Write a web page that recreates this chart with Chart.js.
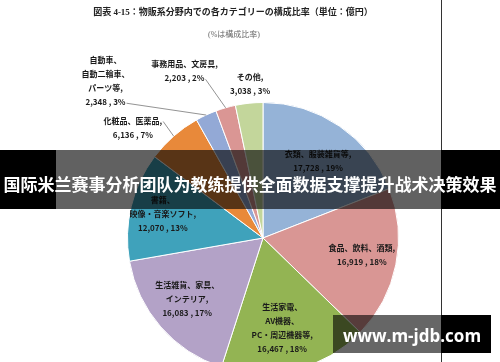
<!DOCTYPE html>
<html>
<head>
<meta charset="utf-8">
<script src="https://cdn.jsdelivr.net/npm/chart.js@4.4.0/dist/chart.umd.min.js"></script>
<style>
body { margin:0; width:500px; height:362px; overflow:hidden; background:#fff; position:relative; }
#pie_chart { position:absolute; left:0; top:0; }
.rule { position:absolute; left:441px; top:0; width:1px; height:362px; background:#333; }
.banner { position:absolute; left:0; top:150px; width:500px; height:35px; padding-top:24px;
  background:linear-gradient(to right, #000 0, #000 56px, rgba(0,0,0,0.62) 56px, rgba(0,0,0,0.62) 441px, #000 441px);
  color:#fff; font:bold 17px 'Noto Sans CJK SC'; line-height:20px; text-align:center; white-space:nowrap; }
.mark { position:absolute; left:333px; top:315px; width:158px; height:30px; padding-top:8px;
  background:linear-gradient(to right, rgba(0,0,0,0.6) 0, rgba(0,0,0,0.6) 108px, #000 108px);
  color:#fff; font:bold 17px 'Open Sans'; line-height:26px; text-align:center; }
</style>
</head>
<body>
<canvas id="pie_chart" width="500" height="400"></canvas>
<div class="rule"></div>
<div class="banner">国际米兰赛事分析团队为教练提供全面数据支撑提升战术决策效果</div>
<div class="mark">www.m-jdb.com</div>
<script>
// categories (one entry per slice, split into the printed lines)
var categories = [
    ['衣類、服装雑貨等'],
    ['食品、飲料、酒類'],
    ['生活家電、', 'AV機器、', 'PC・周辺機器等'],
    ['生活雑貨、家具、', 'インテリア'],
    ['書籍、', '映像・音楽ソフト'],
    ['化粧品、医薬品'],
    ['自動車、', '自動二輪車、', 'パーツ等'],
    ['事務用品、文房具'],
    ['その他']
];
// sales, 億円
var sales = [17728, 16919, 16467, 16083, 12070, 6136, 2348, 2203, 3038];

var sliceColors = ['#95b3d7', '#d99694', '#93b453', '#b3a2c7', '#3fa2bb',
                   '#e8893a', '#93a9d6', '#da9694', '#c3d69b'];

// where each label sits, relative to its slice (dist = share of radius, turn = degrees)
var labelPlace = [
    {dist: 0.70, turn: 1.2},
    {dist: 0.74, turn: -1.7},
    {dist: 0.68, turn: 2},
    {dist: 0.72, turn: 2},
    {dist: 0.76, turn: 0},
    {dist: 1.26, turn: -8.4, lead: 0},
    {dist: 1.64, turn: -20.3, lead: 3},
    {dist: 1.36, turn: -9.2, lead: 1},
    {dist: 1.14, turn: 1.1}
];

var total = sales.reduce(function (a, b) { return a + b; }, 0);

var textPlugin = {
    id: 'pieText',
    afterDraw: function (chart) {
        var ctx = chart.ctx;
        ctx.save();
        ctx.textAlign = 'center';
        ctx.textBaseline = 'middle';

        ctx.fillStyle = '#222';
        ctx.font = "bold 9px 'Liberation Serif', 'Noto Sans CJK JP'";
        ctx.fillText('図表 4-15：物販系分野内での各カテゴリーの構成比率（単位：億円）', 233, 13);
        ctx.fillStyle = '#666';
        ctx.font = "8px 'Liberation Serif', 'Noto Sans CJK JP'";
        ctx.fillText('(%は構成比率)', 234, 35);

        var meta = chart.getDatasetMeta(0);
        ctx.font = "bold 8px 'Noto Sans CJK JP'";
        meta.data.forEach(function (arc, i) {
            var p = arc.getProps(['x', 'y', 'startAngle', 'endAngle', 'outerRadius'], true);
            var mid = (p.startAngle + p.endAngle) / 2;
            var place = labelPlace[i];
            var ang = mid + place.turn * Math.PI / 180;
            var cx = p.x + Math.cos(ang) * p.outerRadius * place.dist;
            var cy = p.y + Math.sin(ang) * p.outerRadius * place.dist;

            var lines = categories[i].slice();
            lines[lines.length - 1] += ',';
            lines.push(sales[i].toLocaleString('en-US') + ' , ' + Math.round(sales[i] / total * 100) + '%');

            var lh = 14;
            var y0 = cy - (lines.length - 1) * lh / 2;
            ctx.fillStyle = '#1a1a1a';
            lines.forEach(function (t, k) {
                ctx.fillText(t, cx, y0 + k * lh);
            });

            if (place.lead !== undefined) {
                var w = ctx.measureText(lines[place.lead]).width;
                var ex = p.x + Math.cos(mid) * p.outerRadius;
                var ey = p.y + Math.sin(mid) * p.outerRadius;
                ctx.strokeStyle = '#777';
                ctx.lineWidth = 0.8;
                ctx.beginPath();
                ctx.moveTo(cx + w / 2 + 1, y0 + place.lead * lh + 1);
                ctx.lineTo(ex, ey);
                ctx.stroke();
            }
        });
        ctx.restore();
    }
};

var ctx = document.getElementById('pie_chart');

var myPieChart = new Chart(ctx, {
    type: 'pie',
    data: {
        labels: categories.map(function (c) { return c.join(''); }),
        datasets: [
            {
                data: sales,
                backgroundColor: sliceColors,
                borderColor: '#fff',
                borderWidth: 1
            }
        ]
    },
    options: {
        responsive: false,
        animation: false,
        devicePixelRatio: 1,
        layout: { padding: { left: 127, right: 101, top: 102, bottom: 26 } },
        plugins: {
            legend: { display: false },
            tooltip: { enabled: false }
        }
    },
    plugins: [textPlugin]
});
</script>
</body>
</html>
